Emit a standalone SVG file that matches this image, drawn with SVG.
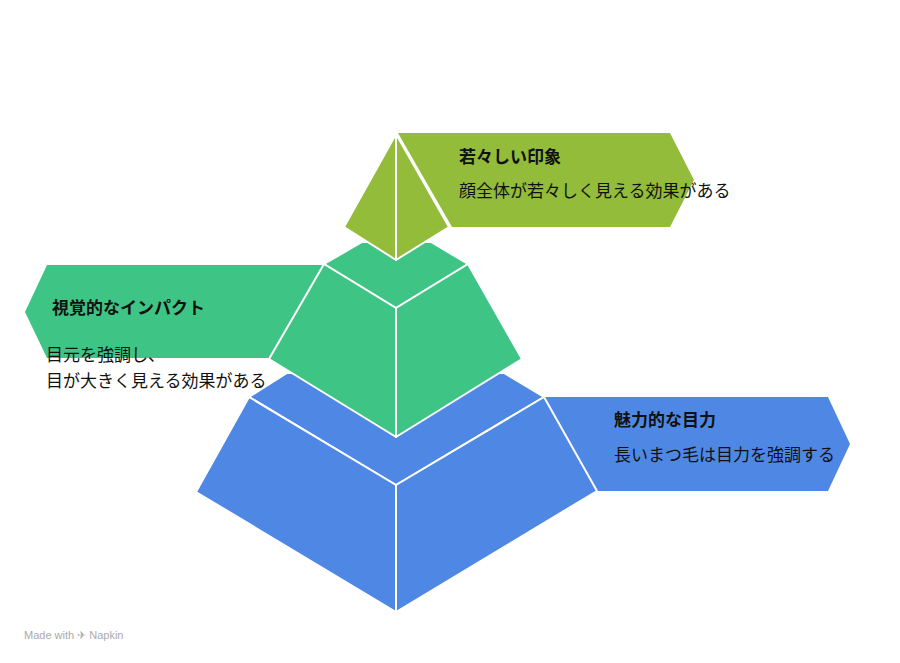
<svg xmlns="http://www.w3.org/2000/svg" width="900" height="663" viewBox="0 0 900 663">
<style>
.t{font-family:"Noto Sans CJK JP","Liberation Sans",sans-serif;fill:#111}
.h{font-size:17px;font-weight:bold}
.b{font-size:17px}
.f{stroke:#fff;stroke-width:2;stroke-linejoin:round}
.y{fill:#92BC3A}.g{fill:#3EC585}.u{fill:#4E88E4}
</style>
<rect width="900" height="663" fill="#fff"/>
<g id="banner-top"><polygon class="y" points="398,133 670,133 694,180 670,227 452,227"/></g>
<g id="banner-left"><polygon class="g" points="323,265 47,265 25,312 47,358 269,358"/></g>
<g id="banner-bottom"><polygon class="u" points="544,397 828,397 850,444 828,491 597,491"/></g>
<g id="tier-bottom">
<polygon class="u f" points="287,373 504,373 544,397 396,485 249,397"/>
<polygon class="u f" points="249,397 396,485 396,612 196,492"/>
<polygon class="u f" points="544,397 597,491 396,612 396,485"/>
</g>
<g id="tier-middle">
<polygon class="g f" points="362,242 431,242 468,264 396,308 324,264"/>
<polygon class="g f" points="324,264 396,308 396,437 269,359"/>
<polygon class="g f" points="468,264 522,359 396,437 396,308"/>
</g>
<g id="tier-top">
<polygon class="y f" points="396,134 396,260 344,227"/>
<polygon class="y f" points="396,134 449,227 396,260"/>
</g>
<g id="connectors"></g>
<g id="labels">
<text class="t h" x="459" y="163">若々しい印象</text>
<text class="t b" x="459" y="197">顔全体が若々しく見える効果がある</text>
<text class="t h" x="52" y="314">視覚的なインパクト</text>
<text class="t b" x="46" y="361">目元を強調し、</text>
<text class="t b" x="46" y="387">目が大きく見える効果がある</text>
<text class="t h" x="614" y="426">魅力的な目力</text>
<text class="t b" x="614" y="461">長いまつ毛は目力を強調する</text>
<text x="24" y="639" font-family="Liberation Sans,sans-serif" font-size="11" fill="#aaa">Made with ✈ Napkin</text>
</g>
</svg>
